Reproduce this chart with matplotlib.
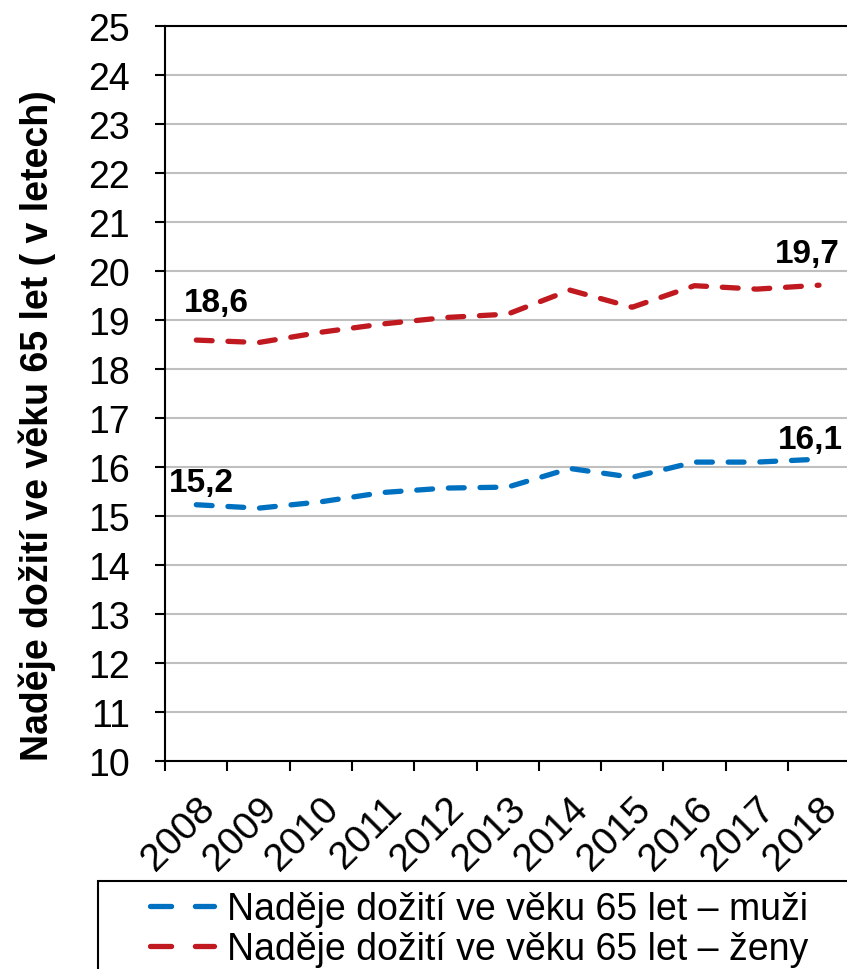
import matplotlib
matplotlib.use('Agg')
import matplotlib.pyplot as plt
from matplotlib.patches import Rectangle
from matplotlib.lines import Line2D

plt.rcParams['font.family'] = ['Liberation Sans', 'DejaVu Sans']

# Data
years = ['2008', '2009', '2010', '2011', '2012', '2013', '2014', '2015', '2016', '2017', '2018']
muzi = [15.23, 15.16, 15.29, 15.48, 15.57, 15.59, 15.97, 15.79, 16.10, 16.10, 16.16]
zeny = [18.59, 18.54, 18.75, 18.92, 19.05, 19.12, 19.61, 19.26, 19.70, 19.63, 19.71]
label_muzi = 'Naděje dožití ve věku 65 let – muži'
label_zeny = 'Naděje dožití ve věku 65 let – ženy'
ylabel = 'Naděje dožití ve věku 65 let ( v letech)'

blue = '#0070C0'
red = '#C0191F'

fig = plt.figure(figsize=(8.47, 9.7), dpi=100)
ax = fig.add_axes([0.195, 0.2144, 0.8087, 0.7578])

x = list(range(len(years)))
ax.plot(x, muzi, color=blue, lw=3.8, dashes=(3, 3), dash_capstyle='round', solid_capstyle='round')
ax.plot(x, zeny, color=red, lw=3.8, dashes=(3, 3), dash_capstyle='round', solid_capstyle='round')

# popisky hodnot na začátku a konci
lab_kw = dict(textcoords='offset pixels', ha='center', va='center', fontsize=24, fontweight='bold')
ax.annotate('18,6', (0, zeny[0]), xytext=(20, 38), **lab_kw)
ax.annotate('15,2', (0, muzi[0]), xytext=(5, 22), **lab_kw)
ax.annotate('19,7', (10, zeny[-1]), xytext=(-12, 32), **lab_kw)
ax.annotate('16,1', (10, muzi[-1]), xytext=(-9, 20), **lab_kw)

ax.set_ylim(10, 25)
ax.set_yticks(range(10, 26))
ax.set_xlim(-0.5, 10.5)
ax.set_xticks([i - 0.5 for i in range(12)])
ax.set_xticklabels([])
ax.set_xticks(x, minor=True)
ax.set_xticklabels(years, minor=True, rotation=45, ha='right', va='top', rotation_mode='anchor')
ax.tick_params(axis='x', which='minor', length=0, pad=21, labelsize=28)
ax.tick_params(axis='x', which='major', length=7.2, width=1.5, direction='out')
ax.tick_params(axis='y', length=7.2, width=1.5, direction='out', labelsize=27, pad=18)

ax.grid(axis='y', color='#BFBFBF', lw=1.5)
ax.set_axisbelow(True)
for s in ['left', 'bottom', 'top', 'right']:
    ax.spines[s].set_linewidth(1.5)
    ax.spines[s].set_color('black')

fig.text(37 / 847, 1 - 426 / 970, ylabel, rotation=90, ha='center', va='center',
         fontsize=27, fontweight='bold')

# legenda s rámečkem, který přesahuje okraj obrázku
fig.patches.append(Rectangle((98 / 847, -0.05), 0.95, 1 - 882 / 970 + 0.05,
                             transform=fig.transFigure, fill=False, ec='black', lw=1.5))
handles = [Line2D([], [], color=blue, lw=3.8, dashes=(4, 4.5), dash_capstyle='round'),
           Line2D([], [], color=red, lw=3.8, dashes=(4, 4.5), dash_capstyle='round')]
fig.legend(handles, [label_muzi, label_zeny], loc='upper left',
           bbox_to_anchor=(150 / 847, 1 - 892 / 970), frameon=False, fontsize=27,
           handlelength=1.7, handletextpad=0.35, labelspacing=0.12, borderpad=0, borderaxespad=0)

fig.savefig('out.png', dpi=100)
